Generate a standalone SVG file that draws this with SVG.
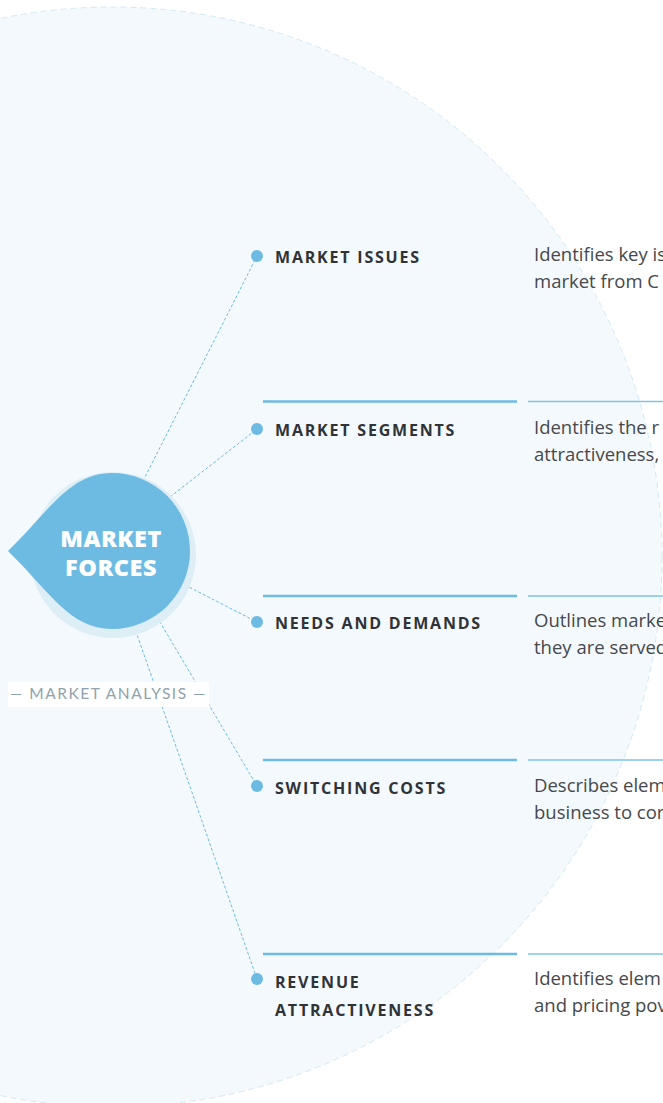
<svg xmlns="http://www.w3.org/2000/svg" width="663" height="1103" viewBox="0 0 663 1103">
<style>
.lbl{font-family:"Open Sans",Lato,"Liberation Sans",sans-serif;font-weight:700;font-size:16px;letter-spacing:1.8px;fill:#2f3338}
.desc{font-family:"Open Sans",Lato,"Liberation Sans",sans-serif;font-size:18.5px;fill:#45484c}
.conn{stroke:#6dbbe3;stroke-width:1;stroke-dasharray:3 2;fill:none}
.dot{fill:#6dbbe3}
.sepL{stroke:#6dbbe3;stroke-width:2.5}
.sepR{stroke:#7fc3e7;stroke-width:1.5}
.ctr{font-family:"Open Sans",Lato,"Liberation Sans",sans-serif;font-weight:800;font-size:23.5px;letter-spacing:0.5px;fill:#ffffff}
</style>
<rect x="0" y="0" width="663" height="1103" fill="#ffffff"/>
<circle cx="112" cy="557" r="550" fill="#f4f9fd" stroke="#d3e8f4" stroke-width="1" stroke-dasharray="6 4"/>
<g id="connectors">
<line class="conn" x1="143" y1="481" x2="257" y2="256"/>
<line class="conn" x1="170" y1="497" x2="257" y2="429"/>
<line class="conn" x1="185" y1="585" x2="257" y2="622"/>
<line class="conn" x1="157" y1="617" x2="257" y2="786"/>
<line class="conn" x1="134" y1="626" x2="257" y2="979"/>
</g>
<g id="separators">
<line class="sepL" x1="263" y1="401.5" x2="517" y2="401.5"/>
<line class="sepR" x1="528" y1="401.5" x2="663" y2="401.5"/>
<line class="sepL" x1="263" y1="596" x2="517" y2="596"/>
<line class="sepR" x1="528" y1="596" x2="663" y2="596"/>
<line class="sepL" x1="263" y1="760" x2="517" y2="760"/>
<line class="sepR" x1="528" y1="760" x2="663" y2="760"/>
<line class="sepL" x1="263" y1="954" x2="517" y2="954"/>
<line class="sepR" x1="528" y1="954" x2="663" y2="954"/>
</g>
<g id="center">
<circle cx="113" cy="555" r="83" fill="#ddeef7"/>
<path d="M8 551 C50 510 70 473 112 473 A78 78 0 1 1 112 629 C70 629 50 592 8 551 Z" fill="#6dbbe3"/>
<text class="ctr" x="111" y="547" text-anchor="middle">MARKET</text>
<text class="ctr" x="111" y="576" text-anchor="middle">FORCES</text>
</g>
<g id="market-analysis">
<rect x="8" y="682" width="201" height="25" fill="#ffffff"/>
<text x="108.5" y="699" text-anchor="middle" font-family="Lato,'Open Sans','Liberation Sans',sans-serif" font-size="15.5" letter-spacing="1.5" fill="#8fa2ae">— MARKET ANALYSIS —</text>
</g>
<g id="market-issues">
<circle class="dot" cx="257" cy="256" r="6"/>
<text class="lbl" x="275" y="263">MARKET ISSUES</text>
<text class="desc" x="534" y="261">Identifies key is</text>
<text class="desc" x="534" y="288">market from C</text>
</g>
<g id="market-segments">
<circle class="dot" cx="257" cy="429" r="6"/>
<text class="lbl" x="275" y="436">MARKET SEGMENTS</text>
<text class="desc" x="534" y="434">Identifies the r</text>
<text class="desc" x="534" y="461">attractiveness,</text>
</g>
<g id="needs-and-demands">
<circle class="dot" cx="257" cy="622" r="6"/>
<text class="lbl" x="275" y="629">NEEDS AND DEMANDS</text>
<text class="desc" x="534" y="627">Outlines marke</text>
<text class="desc" x="534" y="654">they are served</text>
</g>
<g id="switching-costs">
<circle class="dot" cx="257" cy="786" r="6"/>
<text class="lbl" x="275" y="794">SWITCHING COSTS</text>
<text class="desc" x="534" y="792">Describes elem</text>
<text class="desc" x="534" y="819">business to cor</text>
</g>
<g id="revenue-attractiveness">
<circle class="dot" cx="257" cy="979" r="6"/>
<text class="lbl" x="275" y="988">REVENUE</text>
<text class="lbl" x="275" y="1016">ATTRACTIVENESS</text>
<text class="desc" x="534" y="985">Identifies elem</text>
<text class="desc" x="534" y="1012">and pricing pov</text>
</g>
</svg>
